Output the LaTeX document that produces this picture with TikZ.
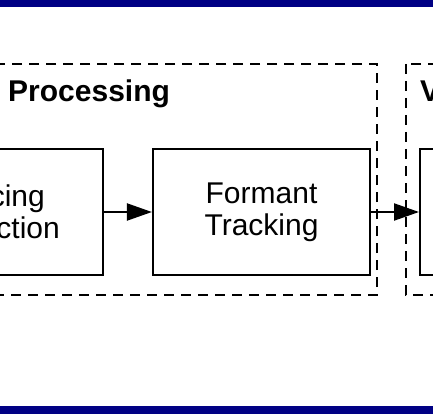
\documentclass[tikz,border=0pt]{standalone}
\usepackage{fontspec}
\setmainfont{Liberation Sans}
\usetikzlibrary{arrows.meta}
\definecolor{barblue}{RGB}{0,0,132}
\tikzset{
  x=1pt, y=-1pt,
  stage/.style={draw=black, line width=2.2pt, minimum width=217pt, minimum height=126pt, inner sep=0pt, align=center, font=\fontsize{30}{32}\selectfont},
  group/.style={draw=black, line width=2.2pt, dash pattern=on 10pt off 7pt},
  title/.style={font=\fontsize{30}{32}\selectfont\bfseries, inner sep=0pt},
  flow/.style={line width=2.2pt, -{Triangle[length=25pt,width=17pt]}}
}
\begin{document}
\begin{tikzpicture}
\useasboundingbox (0,0) rectangle (433,414);
\clip (0,0) rectangle (433,414);
\fill[white] (0,0) rectangle (433,414);
\fill[barblue] (0,0) rectangle (433,7);
\fill[barblue] (0,406) rectangle (433,414);
% groups
\draw[group] (-30,64) rectangle (377,295);
\draw[group] (406,64) rectangle (480,295);
\node[title, anchor=base west] (t1) at (8,102) {Processing};
\node[title, anchor=base west] (t2) at (420,102) {V};
% stages
\node[stage, minimum width=213pt] (voicing) at (-3.5,212) {Voicing\\Detection};
\node[stage] (formant) at (261.5,212) {Formant\\Tracking};
\node[stage, anchor=west] (next) at (419,212) {};
\draw[flow] (voicing) -- (formant);
\draw[flow] (formant) -- (next);
\end{tikzpicture}
\end{document}
